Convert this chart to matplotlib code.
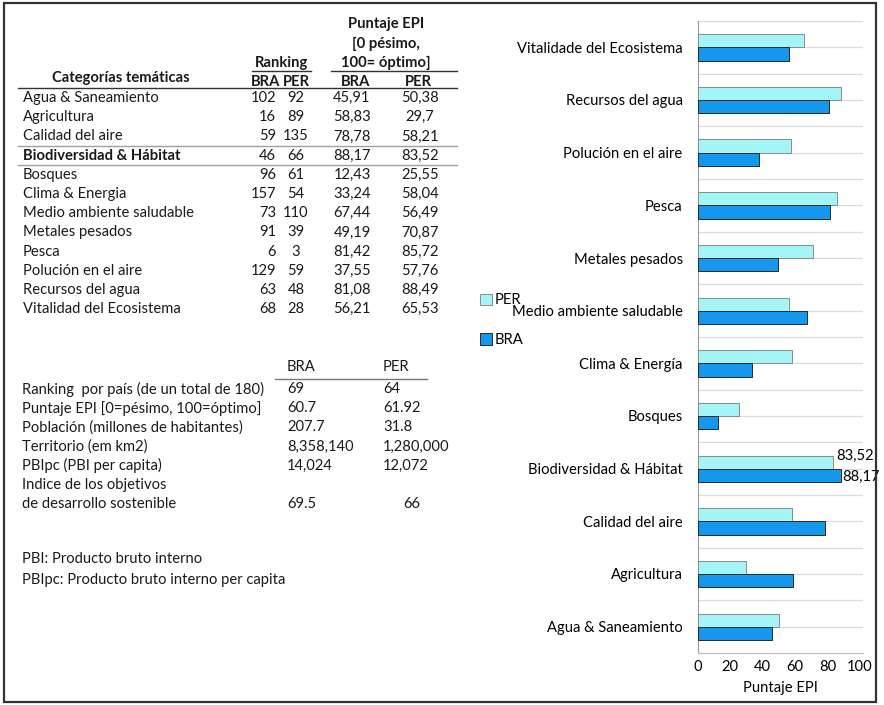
import matplotlib
matplotlib.use("Agg")
import matplotlib.pyplot as plt
from matplotlib.patches import Rectangle, Patch

plt.rcParams['font.family'] = ['Lato', 'DejaVu Sans']

W, H = 884, 705

# EPI thematic categories (table order)
categorias = ["Agua & Saneamiento", "Agricultura", "Calidad del aire",
              "Biodiversidad & Hábitat", "Bosques", "Clima & Energia",
              "Medio ambiente saludable", "Metales pesados", "Pesca",
              "Polución en el aire", "Recursos del agua", "Vitalidad del Ecosistema"]
rank_bra = ["102", "16", "59", "46", "96", "157", "73", "91", "6", "129", "63", "68"]
rank_per = ["92", "89", "135", "66", "61", "54", "110", "39", "3", "59", "48", "28"]
epi_bra = [45.91, 58.83, 78.78, 88.17, 12.43, 33.24, 67.44, 49.19, 81.42, 37.55, 81.08, 56.21]
epi_per = [50.38, 29.7, 58.21, 83.52, 25.55, 58.04, 56.49, 70.87, 85.72, 57.76, 88.49, 65.53]

# labels used on the bar chart axis
bar_labels = ["Agua & Saneamiento", "Agricultura", "Calidad del aire",
              "Biodiversidad & Hábitat", "Bosques", "Clima & Energía",
              "Medio ambiente saludable", "Metales pesados", "Pesca",
              "Polución en el aire", "Recursos del agua", "Vitalidade del Ecosistema"]

# country summary
resumen_labels = ["Ranking  por país (de un total de 180)",
                  "Puntaje EPI [0=pésimo, 100=óptimo]",
                  "Población (millones de habitantes)",
                  "Territorio (em km2)",
                  "PBIpc (PBI per capita)",
                  "Indice de los objetivos",
                  "de desarrollo sostenible"]
resumen_bra = ["69", "60.7", "207.7", "8,358,140", "14,024", "", "69.5"]
resumen_per = ["64", "61.92", "31.8", "1,280,000", "12,072", "", "66"]

notas = ["PBI: Producto bruto interno",
         "PBIpc: Producto bruto interno per capita"]

C_PER = "#a4f5f8"
C_BRA = "#1597ee"
FS = 10.6


def fx(px):
    return px / W


def fy(py):
    return 1 - py / H


def txt(x, y, s, ha="left", weight="normal", size=FS, **kw):
    fig.text(fx(x), fy(y), s, ha=ha, va="center", fontsize=size,
             fontweight=weight, color="#1a1a1a", **kw)


def hline(x0, x1, y, color="#333333", lw=1.0):
    fig.add_artist(plt.Line2D([fx(x0), fx(x1)], [fy(y), fy(y)],
                              transform=fig.transFigure, color=color, lw=lw))


def coma(v):
    return f"{v:g}".replace(".", ",")


fig = plt.figure(figsize=(W / 100, H / 100), dpi=100)

# ---- upper table: thematic categories ----
for i, s in enumerate(["Puntaje EPI", "[0 pésimo,", "100= óptimo]"]):
    txt(386, 24 + i * 19.5, s, ha="center", weight="bold")
txt(281, 63, "Ranking", ha="center", weight="bold")
hline(252, 311, 71)
hline(331, 457, 71)
txt(121, 78, "Categorías temáticas", ha="center", weight="bold")
txt(266, 82, "BRA", ha="center", weight="bold")
txt(296, 82, "PER", ha="center", weight="bold")
txt(356, 82, "BRA", ha="center", weight="bold")
txt(418, 82, "PER", ha="center", weight="bold")
hline(18, 457, 88)

row_h = 19.2
for i, cat in enumerate(categorias):
    y = 98 + i * row_h
    w = "bold" if cat.startswith("Biodiversidad") else "normal"
    txt(23, y, cat, weight=w)
    txt(276, y, rank_bra[i], ha="right")
    txt(296, y, rank_per[i], ha="center")
    txt(352, y, coma(epi_bra[i]), ha="center")
    txt(420, y, coma(epi_per[i]), ha="center")
hline(18, 457, 146, color="#a0a0a0")
hline(18, 457, 165, color="#a0a0a0")

# ---- lower table: country summary ----
txt(287, 367, "BRA")
txt(383, 367, "PER")
hline(275, 427, 379, color="#777777")
for i, lab in enumerate(resumen_labels):
    y = 389 + i * 19.2
    txt(22, y, lab)
    txt(287, y, resumen_bra[i])
    txt(403 if i == 6 else 383, y, resumen_per[i])
for i, s in enumerate(notas):
    txt(22, 559 + i * 21, s)

# ---- bar chart ----
ax = fig.add_axes([fx(698), fy(653), fx(863 - 698), (653 - 21) / H])
ypos = list(range(len(bar_labels)))
bh = 0.25
ax.barh([p + bh / 2 for p in ypos], epi_per, height=bh, color=C_PER,
        edgecolor="#8a8a8a", linewidth=0.7, zorder=3, label="PER")
ax.barh([p - bh / 2 for p in ypos], epi_bra, height=bh, color=C_BRA,
        edgecolor="#2a2a2a", linewidth=0.7, zorder=3, label="BRA")

ax.set_xlim(0, 102)
ax.set_ylim(-0.5, len(bar_labels) - 0.5)
for g in [k / 2 for k in range(-1, 2 * len(bar_labels))]:
    ax.axhline(g, color="#dcdcdc", lw=0.9, zorder=1)

ax.set_yticks(ypos)
ax.set_yticklabels(bar_labels, fontsize=FS)
ax.set_xticks([0, 20, 40, 60, 80, 100])
ax.tick_params(axis="y", length=0, pad=11)
ax.tick_params(axis="x", length=0, pad=5, labelsize=FS)
ax.set_xlabel("Puntaje EPI", fontsize=FS, labelpad=5)
for side in ["top", "right"]:
    ax.spines[side].set_visible(False)
ax.spines["left"].set_color("#999999")
ax.spines["bottom"].set_color("#bbbbbb")

bi = categorias.index("Biodiversidad & Hábitat")
ax.annotate(coma(epi_per[bi]), (epi_per[bi], bi + bh),
            xytext=(2, 0), textcoords="offset points", ha="left", va="center",
            fontsize=FS)
ax.annotate(coma(epi_bra[bi]), (epi_bra[bi], bi - bh / 2),
            xytext=(1.5, -1), textcoords="offset points", ha="left", va="center",
            fontsize=FS)

handles = [Patch(facecolor=C_PER, edgecolor="#8a8a8a", lw=0.7),
           Patch(facecolor=C_BRA, edgecolor="#2a2a2a", lw=0.7)]
fig.legend(handles, ["PER", "BRA"], loc="upper left",
           bbox_to_anchor=(fx(470), fy(283)), frameon=False, fontsize=FS,
           handlelength=0.8, handleheight=0.8, handletextpad=0.15,
           labelspacing=1.75, borderpad=0.2)

# outer frame
fig.add_artist(Rectangle((fx(4), fy(702)), fx(876 - 4), (702 - 3) / H,
                         transform=fig.transFigure, fill=False,
                         edgecolor="#333333", lw=1.6))

fig.savefig("out.png", dpi=100)
